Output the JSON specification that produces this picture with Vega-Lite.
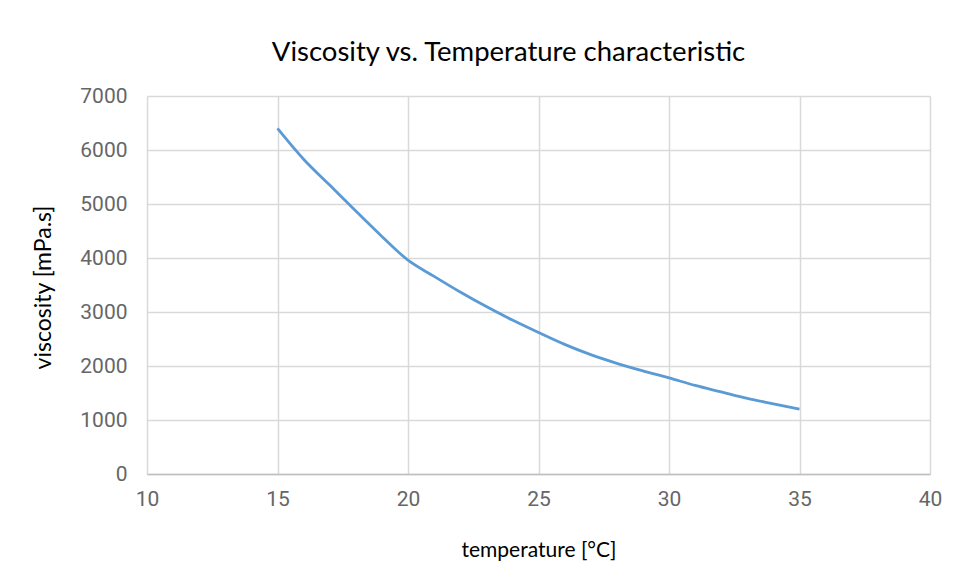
{
  "$schema": "https://vega.github.io/schema/vega-lite/v6.json",
  "autosize": "none",
  "width": 783,
  "height": 378,
  "padding": {"left": 147, "top": 96, "right": 28, "bottom": 108},
  "background": "white",
  "title": {
    "text": "Viscosity vs. Temperature characteristic",
    "font": "Lato",
    "fontSize": 27.5,
    "fontWeight": "normal",
    "color": "#000000",
    "anchor": "middle",
    "frame": "group",
    "baseline": "alphabetic",
    "offset": 34,
    "dy": 37,
    "dx": -30
  },
  "config": {
    "view": {"stroke": null},
    "axis": {
      "gridColor": "#d9d9d9",
      "gridWidth": 1.5,
      "ticks": false,
      "labelFont": "Roboto",
      "labelFontSize": 21,
      "labelColor": "#666666",
      "titleFont": "Lato",
      "titleFontSize": 22,
      "titleFontWeight": "normal",
      "titleColor": "#000000"
    }
  },
  "data": {
    "values": [
      {"temperature": 15, "viscosity": 6400},
      {"temperature": 16, "viscosity": 5830},
      {"temperature": 17, "viscosity": 5350},
      {"temperature": 18, "viscosity": 4870},
      {"temperature": 19, "viscosity": 4400},
      {"temperature": 20, "viscosity": 3960},
      {"temperature": 21, "viscosity": 3660},
      {"temperature": 22, "viscosity": 3370},
      {"temperature": 23, "viscosity": 3100},
      {"temperature": 24, "viscosity": 2850},
      {"temperature": 25, "viscosity": 2620},
      {"temperature": 26, "viscosity": 2400},
      {"temperature": 27, "viscosity": 2210},
      {"temperature": 28, "viscosity": 2050},
      {"temperature": 29, "viscosity": 1910},
      {"temperature": 30, "viscosity": 1780},
      {"temperature": 31, "viscosity": 1640},
      {"temperature": 32, "viscosity": 1520},
      {"temperature": 33, "viscosity": 1400},
      {"temperature": 34, "viscosity": 1300},
      {"temperature": 35, "viscosity": 1200}
    ]
  },
  "mark": {"type": "line", "color": "#5B9BD5", "strokeWidth": 2.8, "interpolate": "monotone"},
  "encoding": {
    "x": {
      "field": "temperature",
      "type": "quantitative",
      "scale": {"domain": [10, 40], "nice": false, "zero": false},
      "axis": {
        "title": "temperature [°C]",
        "titleFontSize": 21,
        "values": [10, 15, 20, 25, 30, 35, 40],
        "format": "d",
        "labelFlush": false,
        "labelOverlap": false,
        "labelPadding": 14,
        "domainColor": "#bfbfbf",
        "domainWidth": 1.5,
        "titleBaseline": "alphabetic",
        "titleY": 82
      }
    },
    "y": {
      "field": "viscosity",
      "type": "quantitative",
      "scale": {"domain": [0, 7000], "nice": false},
      "axis": {
        "title": "viscosity [mPa.s]",
        "titleFontSize": 23,
        "values": [0, 1000, 2000, 3000, 4000, 5000, 6000, 7000],
        "format": "d",
        "domain": false,
        "labelPadding": 20,
        "titleBaseline": "alphabetic",
        "titleAngle": -90,
        "titleAlign": "center",
        "titleX": -97,
        "titleY": 191
      }
    }
  }
}
